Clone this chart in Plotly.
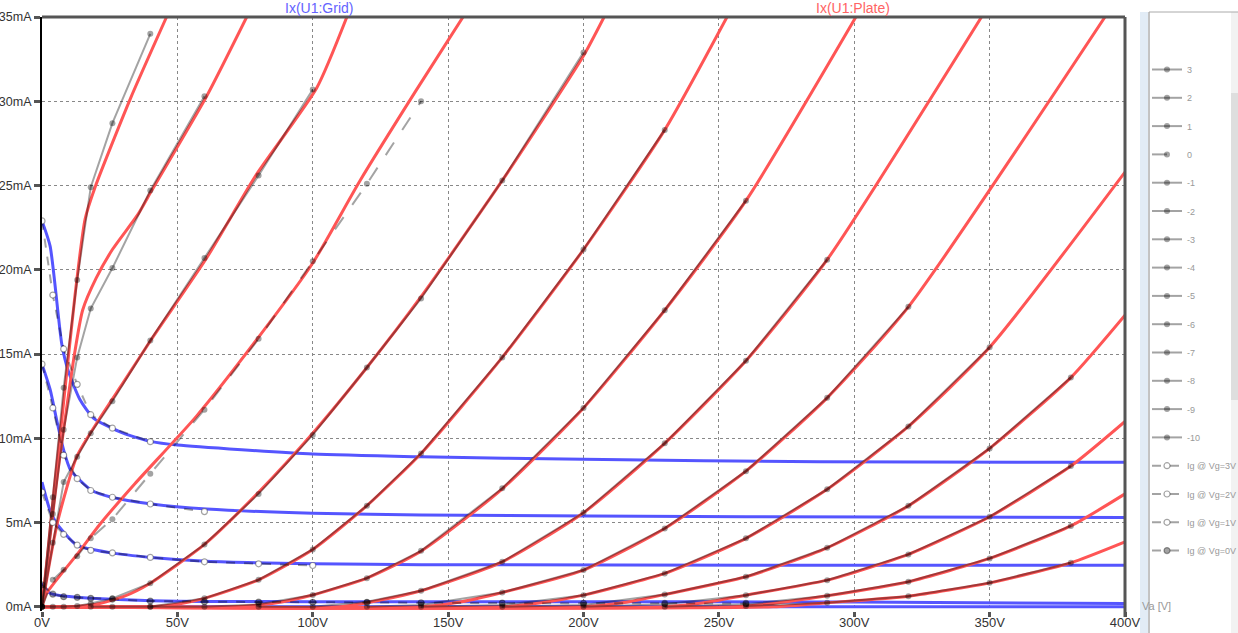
import plotly.graph_objects as go

# ---------------- data ----------------
# measured sample voltages (V)
MEAS_V = [0, 4, 8, 13, 18, 26, 40, 60, 80, 100, 120, 140, 170, 200, 230, 260, 290, 320, 350, 380]

# measured plate current (mA) per grid voltage
MEAS_P3 = [0, 6.5, 13.0, 19.4, 24.9, 28.7, 34.0]
MEAS_P2 = [0, 5.5, 10.5, 14.8, 17.7, 20.1, 24.7, 30.3]
MEAS_P1 = [0, 3.8, 7.4, 8.9, 10.3, 12.2, 15.8, 20.7, 25.6, 30.7]
MEAS_P0 = [0, 1.6, 2.2, 3.0, 4.06, 5.2, 7.9, 11.7, 15.9, 20.5, 25.1, 30.0]
MEAS_M1 = [0, 0, 0, 0.05, 0.2, 0.5, 1.4, 3.7, 6.7, 10.2, 14.2, 18.3, 25.3, 32.9]
MEAS_M2 = [0, 0, 0, 0, 0, 0, 0, 0.5, 1.6, 3.4, 6.0, 9.1, 14.8, 21.2, 28.3]
MEAS_M3 = [0, 0, 0, 0, 0, 0, 0, 0, 0.15, 0.7, 1.7, 3.32, 7.03, 11.8, 17.6, 24.1]
MEAS_M4 = [0, 0, 0, 0, 0, 0, 0, 0, 0, 0, 0.3, 0.95, 2.67, 5.58, 9.7, 14.6, 20.6]
MEAS_M5 = [0, 0, 0, 0, 0, 0, 0, 0, 0, 0, 0, 0.1, 0.85, 2.18, 4.65, 8.05, 12.4, 17.8]
MEAS_M6 = [0, 0, 0, 0, 0, 0, 0, 0, 0, 0, 0, 0, 0.1, 0.69, 1.98, 4.06, 6.97, 10.7, 15.4]
MEAS_M7 = [0, 0, 0, 0, 0, 0, 0, 0, 0, 0, 0, 0, 0, 0.1, 0.73, 1.78, 3.5, 5.99, 9.4, 13.6]
MEAS_M8 = [0, 0, 0, 0, 0, 0, 0, 0, 0, 0, 0, 0, 0, 0, 0.15, 0.69, 1.58, 3.11, 5.34, 8.35]
MEAS_M9 = [0, 0, 0, 0, 0, 0, 0, 0, 0, 0, 0, 0, 0, 0, 0, 0.15, 0.65, 1.49, 2.87, 4.8]
MEAS_M10 = [0, 0, 0, 0, 0, 0, 0, 0, 0, 0, 0, 0, 0, 0, 0, 0.05, 0.24, 0.63, 1.42, 2.61]
# first sample drawn for each curve (the flat zero run is shared along the axis, each part shown once)
MEAS_START = [0, 0, 0, 0, 0, 4, 6, 8, 10, 11, 12, 13, 14, 15]

# measured grid current (mA)
MEAS_G3 = [22.9, 18.5, 15.3, 13.2, 11.4, 10.6, 9.8]
MEAS_G2 = [14.4, 11.8, 9.0, 7.6, 6.9, 6.5, 6.1, 5.65]
MEAS_G1 = [6.8, 5.0, 4.3, 3.66, 3.35, 3.2, 2.93, 2.67, 2.55, 2.45]
MEAS_G0 = [1.3, 0.75, 0.6, 0.56, 0.5, 0.45, 0.34, 0.3, 0.28, 0.27, 0.25, 0.24, 0.22, 0.21, 0.2, 0.2]

PLATE_LABELS = ["3", "2", "1", "0", "-1", "-2", "-3", "-4", "-5", "-6", "-7", "-8", "-9", "-10"]
GRID_LABELS = ["Ig @ Vg=3V", "Ig @ Vg=2V", "Ig @ Vg=1V", "Ig @ Vg=0V"]

# model plate current Ix(U1:Plate): (V, mA) points
MOD_P3_V = [0, 2, 4.5, 7.3, 12.2, 15.9, 19.6, 32.5, 46]
MOD_P3_I = [0, 3, 7, 11.1, 18.5, 23.0, 24.9, 30.1, 35]
MOD_P2_V = [0, 3, 6, 8.5, 12, 15, 20, 26, 35.5, 40.5, 60.8, 75.6]
MOD_P2_I = [0, 4.2, 8.2, 11.1, 15.0, 17.6, 19.5, 21.2, 23.3, 24.7, 30.3, 35]
MOD_P1_V = [0, 3, 6, 12.8, 21.4, 30, 40.5, 60.8, 79, 101.5, 112.6]
MOD_P1_I = [0, 2.8, 5.2, 8.9, 11.2, 13.3, 15.9, 20.7, 25.6, 30.8, 35]
MOD_P0_V = [0, 1.7, 13.4, 21.4, 34.3, 57, 80, 100, 117.5, 138, 155.5]
MOD_P0_I = [0, 0.8, 3.2, 4.9, 7.3, 11.3, 16.0, 20.4, 25.3, 30.6, 35]
MOD_M1_V = [0, 10, 20, 30, 40, 60, 80, 100, 120, 140, 170, 200, 207.6]
MOD_M1_I = [0, 0, 0.15, 0.6, 1.4, 3.7, 6.8, 10.3, 14.2, 18.4, 25.3, 32.7, 35]
MOD_M2_V = [0, 40, 50, 60, 80, 100, 120, 140, 170, 200, 230, 253]
MOD_M2_I = [0, 0, 0.15, 0.5, 1.6, 3.4, 6.0, 9.1, 14.8, 21.2, 28.3, 35]
MOD_M3_V = [0, 70, 85, 100, 120, 140, 170, 200, 230, 260, 300.6]
MOD_M3_I = [0, 0, 0.2, 0.7, 1.7, 3.3, 7.0, 11.8, 17.6, 24.1, 35]
MOD_M4_V = [0, 110, 125, 140, 170, 200, 230, 260, 290, 347]
MOD_M4_I = [0, 0, 0.4, 0.95, 2.67, 5.58, 9.7, 14.6, 20.6, 35]
MOD_M5_V = [0, 140, 155, 170, 200, 230, 260, 290, 320, 392.6]
MOD_M5_I = [0, 0, 0.3, 0.85, 2.18, 4.65, 8.05, 12.4, 17.8, 35]
MOD_M6_V = [0, 170, 185, 200, 230, 260, 290, 320, 350, 400]
MOD_M6_I = [0, 0, 0.25, 0.69, 1.98, 4.06, 6.97, 10.7, 15.4, 25.8]
MOD_M7_V = [0, 200, 215, 230, 260, 290, 320, 350, 380, 400]
MOD_M7_I = [0, 0, 0.25, 0.73, 1.78, 3.5, 5.99, 9.4, 13.6, 17.3]
MOD_M8_V = [0, 230, 245, 260, 290, 320, 350, 380, 400]
MOD_M8_I = [0, 0, 0.25, 0.69, 1.58, 3.11, 5.34, 8.35, 11.0]
MOD_M9_V = [0, 255, 270, 290, 320, 350, 380, 400]
MOD_M9_I = [0, 0, 0.2, 0.65, 1.49, 2.87, 4.8, 6.7]
MOD_M10_V = [0, 270, 290, 320, 350, 380, 400]
MOD_M10_I = [0, 0, 0.24, 0.63, 1.42, 2.61, 3.85]

# model grid current Ix(U1:Grid)
MOD_G3_V = [0, 3, 7.3, 9.7, 14, 19, 30, 40.5, 50, 100, 140, 200, 287, 400]
MOD_G3_I = [22.9, 21.4, 15.6, 14.0, 12.3, 11.2, 10.3, 9.8, 9.6, 9.06, 8.9, 8.75, 8.6, 8.57]
MOD_G2_V = [0, 3, 5.4, 8, 10.6, 18.4, 25.7, 40.5, 60.8, 100, 140, 260, 400]
MOD_G2_I = [14.4, 12.9, 11.1, 9.3, 8.1, 6.9, 6.5, 6.1, 5.8, 5.55, 5.45, 5.35, 5.3]
MOD_G1_V = [0, 3, 5.4, 12.8, 25.7, 40.5, 60.8, 100, 140, 280, 400]
MOD_G1_I = [7.4, 5.7, 4.95, 3.66, 3.2, 2.93, 2.7, 2.55, 2.5, 2.47, 2.47]
MOD_G0_V = [0, 3, 12.8, 25.7, 40.5, 60, 100, 200, 300, 400]
MOD_G0_I = [1.39, 0.8, 0.56, 0.45, 0.36, 0.32, 0.3, 0.3, 0.28, 0.2]
MOD_GN_V = [0, 400]
MOD_GN_I = [0, 0]

X_TICKS = [0, 50, 100, 150, 200, 250, 300, 350, 400]
X_TICK_TEXT = ["0V", "50V", "100V", "150V", "200V", "250V", "300V", "350V", "400V"]
Y_TICKS = [0, 5, 10, 15, 20, 25, 30, 35]
Y_TICK_TEXT = ["0mA", "5mA", "10mA", "15mA", "20mA", "25mA", "30mA", "35mA"]

# ---------------- styles ----------------
RED = "rgb(255,85,85)"
BLUE = "rgb(85,85,255)"
OVER = "rgba(0,0,0,0.36)"
FONT = "Arial, Liberation Sans, sans-serif"

fig = go.Figure()

model_plate = [(MOD_P3_V, MOD_P3_I), (MOD_P2_V, MOD_P2_I), (MOD_P1_V, MOD_P1_I), (MOD_P0_V, MOD_P0_I),
               (MOD_M1_V, MOD_M1_I), (MOD_M2_V, MOD_M2_I), (MOD_M3_V, MOD_M3_I), (MOD_M4_V, MOD_M4_I),
               (MOD_M5_V, MOD_M5_I), (MOD_M6_V, MOD_M6_I), (MOD_M7_V, MOD_M7_I), (MOD_M8_V, MOD_M8_I),
               (MOD_M9_V, MOD_M9_I), (MOD_M10_V, MOD_M10_I)]
model_grid = [(MOD_G3_V, MOD_G3_I), (MOD_G2_V, MOD_G2_I), (MOD_G1_V, MOD_G1_I),
              (MOD_G0_V, MOD_G0_I), (MOD_GN_V, MOD_GN_I)]

for v, i in model_grid:
    fig.add_trace(go.Scatter(x=v, y=i, mode="lines", line=dict(color=BLUE, width=3, shape="spline", smoothing=0.6),
                             showlegend=False, hoverinfo="skip"))
for v, i in model_plate:
    fig.add_trace(go.Scatter(x=v, y=i, mode="lines", line=dict(color=RED, width=3, shape="spline", smoothing=0.6),
                             showlegend=False, hoverinfo="skip"))

meas_plate = [MEAS_P3, MEAS_P2, MEAS_P1, MEAS_P0, MEAS_M1, MEAS_M2, MEAS_M3, MEAS_M4, MEAS_M5,
              MEAS_M6, MEAS_M7, MEAS_M8, MEAS_M9, MEAS_M10]
for name, vals, s in zip(PLATE_LABELS, meas_plate, MEAS_START):
    fig.add_trace(go.Scatter(
        x=MEAS_V[s:len(vals)], y=vals[s:], mode="lines+markers", name=name, legendgroup=name,
        line=dict(color=OVER, width=2, dash="longdash" if name == "0" else "solid"),
        marker=dict(color=OVER, size=6), hoverinfo="skip"))

meas_grid = [MEAS_G3, MEAS_G2, MEAS_G1, MEAS_G0]
for name, vals in zip(GRID_LABELS, meas_grid):
    open_marker = name != "Ig @ Vg=0V"
    fig.add_trace(go.Scatter(
        x=MEAS_V[:len(vals)], y=vals, mode="lines+markers", name=name, legendgroup=name,
        line=dict(color=OVER, width=2, dash="dash"),
        marker=dict(color="white" if open_marker else OVER, size=6,
                    line=dict(color=OVER, width=1.2)),
        hoverinfo="skip"))

PLOT_L, PLOT_R, PLOT_T, PLOT_B = 42, 1125, 17, 611


def px(x):
    return (x - PLOT_L) / (PLOT_R - PLOT_L)


def py(y):
    return (PLOT_B - y) / (PLOT_B - PLOT_T)


shapes = [
    # top and right frame
    dict(type="line", xref="paper", yref="paper", x0=0, x1=1, y0=1, y1=1, line=dict(color="#555", width=3)),
    dict(type="line", xref="paper", yref="paper", x0=1, x1=1, y0=py(617), y1=1, line=dict(color="#555", width=3)),
    # side panel
    dict(type="rect", xref="paper", yref="paper", x0=px(1140), x1=px(1148), y0=py(633), y1=py(12),
         line=dict(width=0), fillcolor="rgb(226,236,246)", layer="below"),
    dict(type="line", xref="paper", yref="paper", x0=px(1149), x1=px(1149), y0=py(633), y1=py(12),
         line=dict(color="#888", width=1)),
    dict(type="line", xref="paper", yref="paper", x0=px(1149), x1=px(1238), y0=py(12), y1=py(12),
         line=dict(color="#aaa", width=1)),
    dict(type="rect", xref="paper", yref="paper", x0=px(1231), x1=px(1238), y0=py(633), y1=py(12),
         line=dict(width=0), fillcolor="rgb(242,242,242)", layer="below"),
    dict(type="rect", xref="paper", yref="paper", x0=px(1231), x1=px(1238), y0=py(400), y1=py(93),
         line=dict(width=0), fillcolor="rgb(222,222,222)", layer="below"),
]

annotations = [
    dict(text="Ix(U1:Grid)", x=px(319), y=py(8), xref="paper", yref="paper", showarrow=False,
         xanchor="center", yanchor="middle",
         font=dict(family=FONT, size=14, color="rgb(100,100,255)")),
    dict(text="Ix(U1:Plate)", x=px(853), y=py(8), xref="paper", yref="paper", showarrow=False,
         xanchor="center", yanchor="middle",
         font=dict(family=FONT, size=14, color="rgb(255,100,100)")),
    dict(text="Va [V]", x=px(1140), y=py(606), xref="paper", yref="paper", showarrow=False,
         xanchor="left", yanchor="middle",
         font=dict(family=FONT, size=11, color="#999")),
]

fig.update_layout(
    width=1238, height=633,
    margin=dict(l=PLOT_L, r=1238 - PLOT_R, t=PLOT_T, b=633 - PLOT_B, autoexpand=False),
    paper_bgcolor="white", plot_bgcolor="white",
    font=dict(family=FONT, color="#333", size=12),
    shapes=shapes, annotations=annotations,
    legend=dict(x=px(1147), y=py(55), xanchor="left", yanchor="top", xref="paper", yref="paper",
                font=dict(family=FONT, size=9, color="#999"), bgcolor="rgba(0,0,0,0)", tracegroupgap=9.3,
                itemwidth=30),
    xaxis=dict(range=[0, 400], tickvals=X_TICKS, ticktext=X_TICK_TEXT, showgrid=True, automargin=False,
               gridcolor="#888", griddash="3px,3px", gridwidth=1, zeroline=False,
               showline=False, ticks="outside", ticklen=5, tickwidth=3, tickcolor="#555",
               ticklabelstandoff=-6,
               layer="below traces", tickfont=dict(family=FONT, size=13, color="#333")),
    yaxis=dict(range=[-0.25, 35], tickvals=Y_TICKS, ticktext=Y_TICK_TEXT, showgrid=True, automargin=False,
               gridcolor="#888", griddash="3px,3px", gridwidth=1, zeroline=False,
               showline=True, linecolor="black", linewidth=2, ticks="outside", ticklen=6,
               tickwidth=3, tickcolor="#555", layer="below traces",
               tickfont=dict(family=FONT, size=12.5, color="#333")),
)

fig.write_html("out.html", config={"displayModeBar": False},
               post_script="document.body.style.margin='0px';")
